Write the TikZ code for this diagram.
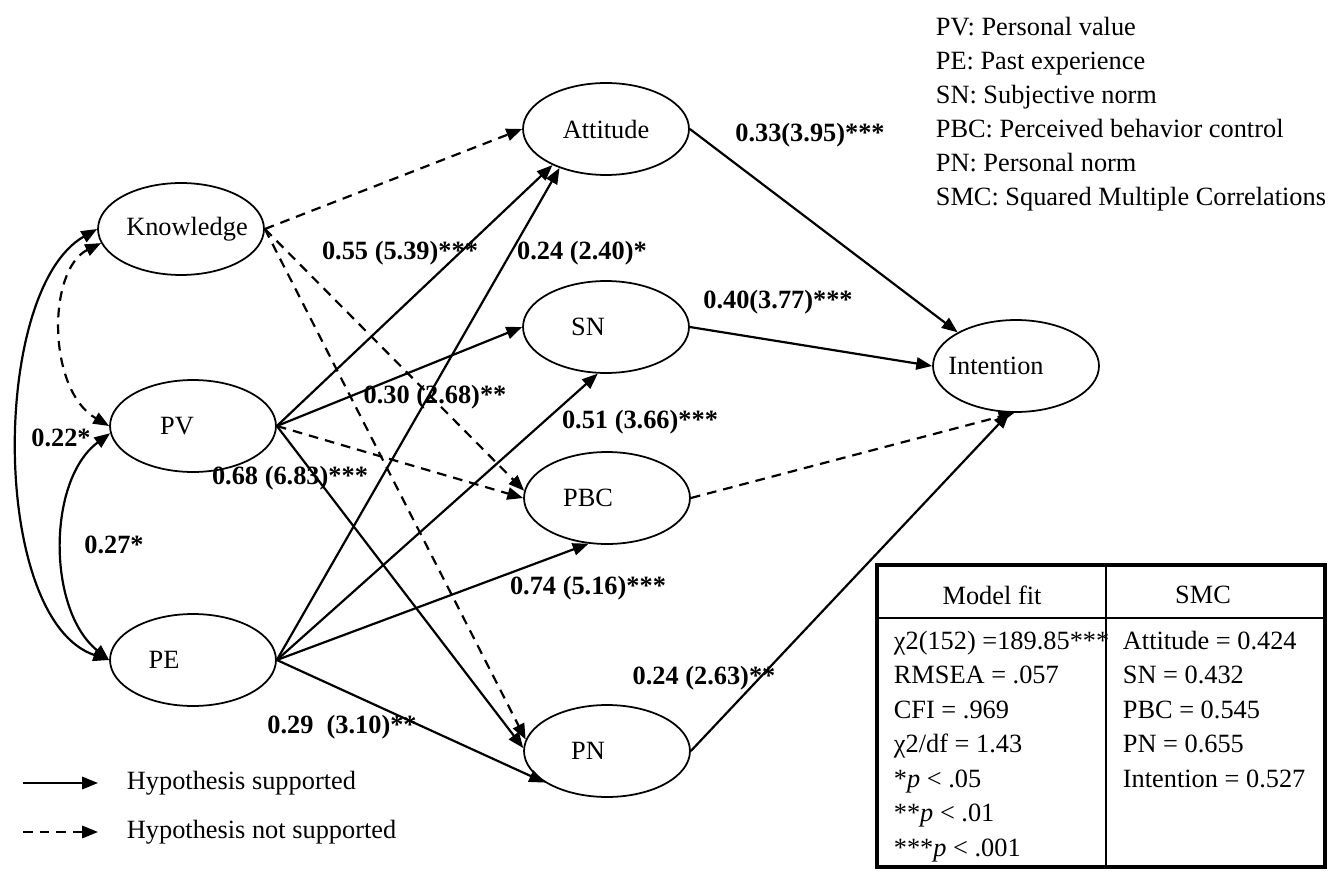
\documentclass[tikz,border=0pt]{standalone}
\usepackage{fontspec}
\setmainfont{Liberation Serif}
\usetikzlibrary{shapes.geometric, arrows.meta}

% text in a construct, moved sideways by #1
\newcommand{\ctxt}[2][0pt]{\makebox[0pt]{\hspace*{2\dimexpr#1\relax}#2}}

\begin{document}
\fontsize{15}{19}\selectfont
\begin{tikzpicture}[x=0.02cm, y=-0.02cm, every path/.style={line width=1pt},
  construct/.style={draw, ellipse, minimum width=3.32cm, minimum height=1.84cm, inner sep=0pt},
  support/.style={line width=1.25pt, -{Triangle[length=9pt,width=7pt]}},
  nosupport/.style={support, dash pattern=on 5.5pt off 4pt},
  corr/.style={line width=1.25pt, {Triangle[length=9pt,width=7pt]}-{Triangle[length=9pt,width=7pt]}},
  coef/.style={font=\bfseries}]
  \useasboundingbox (0,0) rectangle (1331,878);

  % 1. constructs
  \node[construct] (Knowledge) at (181,229) {\ctxt[0.12cm]{Knowledge}};
  \node[construct] (PV) at (193,426) {\ctxt[-0.32cm]{PV}};
  \node[construct] (PE) at (193,660) {\ctxt[-0.58cm]{PE}};
  \node[construct] (Attitude) at (606,129) {\ctxt{Attitude}};
  \node[construct] (SN) at (606,327) {\ctxt[-0.36cm]{SN}};
  \node[construct] (PBC) at (607,498) {\ctxt[-0.38cm]{PBC}};
  \node[construct] (PN) at (607,751) {\ctxt[-0.38cm]{PN}};
  \node[construct] (Intention) at (1016,366) {\ctxt[-0.4cm]{Intention}};

  % 2. correlations
  \draw[corr] (Knowledge.west) .. controls (-10,290) and (-10,620) .. (PE.west);
  \draw[corr, dash pattern=on 5.5pt off 4pt] (Knowledge.190) .. controls (47,270) and (47,390) .. (PV.west);
  \draw[corr] (PV.185) .. controls (47,480) and (47,610) .. (PE.west);
  \node[coef] (l22) at (61,438) {0.22*};
  \node[coef] (l27) at (114,545) {0.27*};

  % 3. paths, not supported
  \draw[nosupport] (Knowledge.east) -- (Attitude.west);
  \draw[nosupport] (Knowledge.east) -- (PBC.175);
  \draw[nosupport] (Knowledge.east) -- (PN.172);
  \draw[nosupport] (PV.east) -- (PBC.west);
  \draw[nosupport] (PBC.east) -- (Intention.268);

  % 4. paths, supported
  \draw[support] (PV.east) -- (Attitude.214);
  \draw[support] (PE.east) -- (Attitude.220);
  \draw[support] (PV.east) -- (SN.west);
  \draw[support] (PE.east) -- (SN.260);
  \draw[support] (PV.east) -- (PN.178);
  \draw[support] (PE.east) -- (PBC.248);
  \draw[support] (PE.east) -- (PN.207);
  \draw[support] (Attitude.east) -- (Intention.150);
  \draw[support] (SN.east) -- (Intention.west);
  \draw[support] (PN.east) -- (Intention.262);

  \node[coef] (l55) at (400,253) {0.55 (5.39)***};
  \node[coef] (l24a) at (582,253) {0.24 (2.40)*};
  \node[coef] (l30) at (435,397) {0.30 (2.68)**};
  \node[coef] (l51) at (640,422) {0.51 (3.66)***};
  \node[coef] (l68) at (290,478) {0.68 (6.83)***};
  \node[coef] (l74) at (588,588) {0.74 (5.16)***};
  \node[coef] (l29) at (342,727) {0.29~~(3.10)**};
  \node[coef] (l24b) at (704,678) {0.24 (2.63)**};
  \node[coef] (l33) at (810,135) {0.33(3.95)***};
  \node[coef] (l40) at (778,302) {0.40(3.77)***};

  % 5. abbreviations
  \foreach \txt [count=\i] in {{PV: Personal value}, {PE: Past experience},
      {SN: Subjective norm}, {PBC: Perceived behavior control},
      {PN: Personal norm}, {SMC: Squared Multiple Correlations}}
    \node[anchor=base west, inner sep=0pt] (abbr\i) at (935,2+34*\i) {\txt};

  % 6. legend
  \coordinate (solidA) at (23,783);
  \coordinate (solidB) at (98,783);
  \coordinate (dashA) at (23,832);
  \coordinate (dashB) at (98,832);
  \draw[support] (solidA) -- (solidB);
  \draw[nosupport] (dashA) -- (dashB);
  \node[anchor=west, inner sep=0pt] (legsupp) at (126,783) {Hypothesis supported};
  \node[anchor=west, inner sep=0pt] (legnot) at (126,832) {Hypothesis not supported};

  % 7. fit table
  \draw[line width=2.5pt] (877,565) rectangle (1325,867);
  \draw (877,618) -- (1325,618);
  \draw (1106,565) -- (1106,867);
  \node (fithead) at (992,595) {Model fit};
  \node (smchead) at (1203,595) {SMC};
  \foreach \txt [count=\i] in {{χ2(152) =189.85***}, {RMSEA = .057}, {CFI = .969},
      {χ2/df = 1.43}, {*\textit{p} < .05}, {**\textit{p} < .01}, {***\textit{p} < .001}}
    \node[anchor=base west, inner sep=0pt] (fit\i) at (893,614.5+34.5*\i) {\txt};
  \foreach \txt [count=\i] in {{Attitude = 0.424}, {SN = 0.432}, {PBC = 0.545},
      {PN = 0.655}, {Intention = 0.527}}
    \node[anchor=base west, inner sep=0pt] (smc\i) at (1122,614.5+34.5*\i) {\txt};
\end{tikzpicture}
\end{document}
